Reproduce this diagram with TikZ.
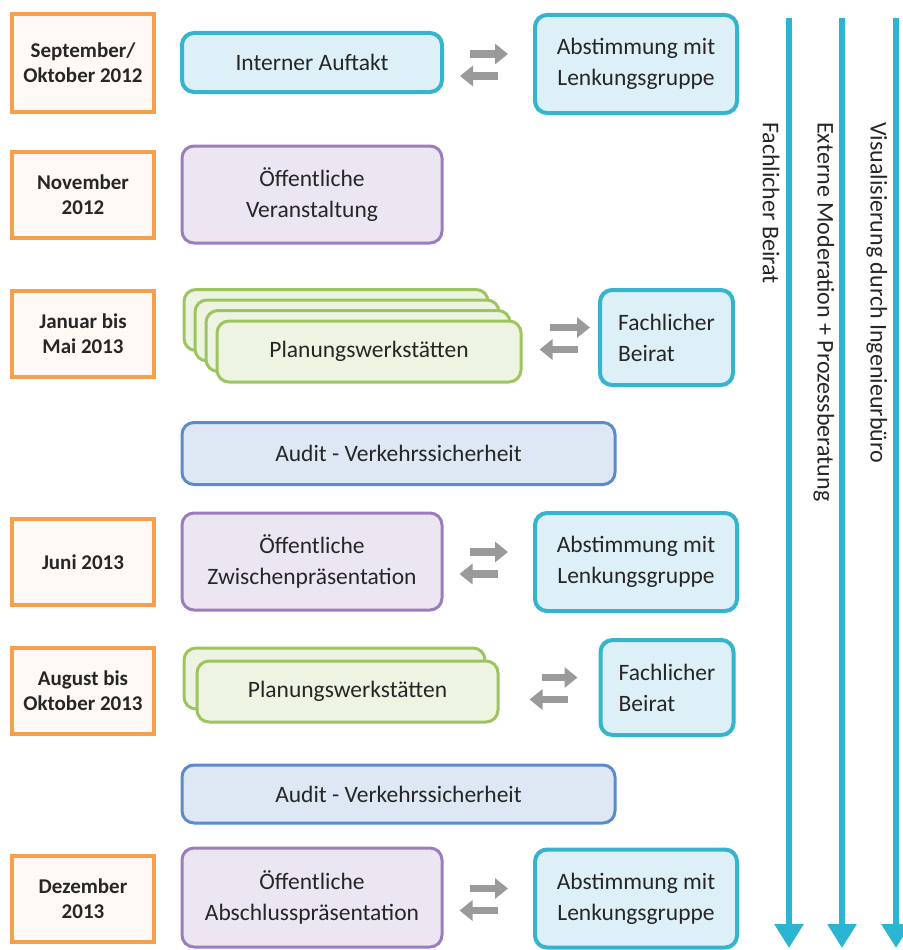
\documentclass[tikz,border=0pt]{standalone}
\usepackage{fontspec}
\setmainfont{Carlito}
\usetikzlibrary{arrows.meta}
\definecolor{txt}{HTML}{262626}
\definecolor{datedr}{HTML}{F6A04D}
\definecolor{datefl}{HTML}{FEF9F4}
\definecolor{cyandr}{HTML}{36B4CD}
\definecolor{cyanfl}{HTML}{DDF0F7}
\definecolor{purpdr}{HTML}{9B7DBF}
\definecolor{purpfl}{HTML}{ECE5F2}
\definecolor{greendr}{HTML}{9DC45F}
\definecolor{greenfl}{HTML}{EEF4E2}
\definecolor{auditdr}{HTML}{5B8BC9}
\definecolor{auditfl}{HTML}{DDE8F4}
\definecolor{timecl}{HTML}{2BB5D3}
\definecolor{arrcl}{HTML}{9A9A9A}
\begin{document}
\begin{tikzpicture}[x=1pt, y=-1pt,
    box/.style={draw, rounded corners=12pt, align=center, inner sep=0pt, text=txt,
        font=\fontsize{23.5}{31}\selectfont},
    datebox/.style={draw=datedr, fill=datefl, line width=3.5pt, align=center, inner sep=0pt,
        minimum width=142pt, minimum height=86pt, text=txt, font=\bfseries\fontsize{21}{25}\selectfont},
    cyanbox/.style={box, draw=cyandr, fill=cyanfl, line width=4pt, minimum width=202pt, minimum height=98pt},
    purplebox/.style={box, draw=purpdr, fill=purpfl, line width=3pt, minimum width=260pt, minimum height=97pt},
    greenbox/.style={box, draw=greendr, fill=greenfl, line width=3pt, minimum height=61pt},
    auditbox/.style={box, draw=auditdr, fill=auditfl, line width=3pt, minimum width=433pt},
    grayarr/.style={draw=arrcl, line width=7.5pt, -{Triangle[length=13pt,width=20pt]}},
    timearr/.style={draw=timecl, line width=6pt, -{Triangle[length=24pt,width=28pt]}},
    vlabel/.style={rotate=-90, anchor=west, inner sep=0pt, text=txt, font=\fontsize{24}{28}\selectfont}]
    \useasboundingbox (0,0) rectangle (902,950);
    % dates
    \node[datebox, minimum height=98pt] (d1) at (83,63) {September/\\Oktober 2012};
    \node[datebox] (d2) at (83,195) {November\\2012};
    \node[datebox] (d3) at (83,334) {Januar bis\\Mai 2013};
    \node[datebox] (d4) at (83,562) {Juni 2013};
    \node[datebox] (d5) at (83,691) {August bis\\Oktober 2013};
    \node[datebox] (d6) at (83,899) {Dezember\\2013};
    % steps
    \node[cyanbox, minimum width=260pt, minimum height=59pt] (ia) at (312,62.5) {Interner Auftakt};
    \node[cyanbox] (ab1) at (636,64) {Abstimmung mit\\Lenkungsgruppe};
    \node[purplebox] (ov) at (312,194.5) {Öffentliche\\Veranstaltung};
    \foreach \k in {3,2,1}
        \node[greenbox, minimum width=304pt] (pwa\k) at ({369-11*\k},{351.5-10.5*\k}) {};
    \node[greenbox, minimum width=304pt] (pwa) at (369,351.5) {Planungswerkstätten};
    \node[cyanbox, minimum width=133pt, minimum height=95pt, align=left] (fb1) at (666.5,337.5) {Fachlicher\\Beirat};
    \node[auditbox, minimum height=62pt] (au1) at (398.5,453.5) {Audit - Verkehrssicherheit};
    \node[purplebox] (oz) at (312,561.5) {Öffentliche\\Zwischenpräsentation};
    \node[cyanbox] (ab2) at (636,562) {Abstimmung mit\\Lenkungsgruppe};
    \node[greenbox, minimum width=301pt] (pwb1) at (334.5,678.5) {};
    \node[greenbox, minimum width=301pt] (pwb) at (347.5,691.5) {Planungswerkstätten};
    \node[cyanbox, minimum width=133pt, minimum height=95pt, align=left] (fb2) at (667,687.5) {Fachlicher\\Beirat};
    \node[auditbox, minimum height=58pt] (au2) at (398.5,794) {Audit - Verkehrssicherheit};
    \node[purplebox, minimum height=99pt] (oa) at (312,897.5) {Öffentliche\\Abschlusspräsentation};
    \node[cyanbox] (ab3) at (636,898.5) {Abstimmung mit\\Lenkungsgruppe};
    % exchange arrows
    \draw[grayarr] ([xshift=26pt,yshift=10pt]ia.east |- ab1.west) -- ([xshift=-25pt,yshift=10pt]ab1.west);
    \draw[grayarr] ([xshift=-35pt,yshift=-12pt]ab1.west) -- ([xshift=16pt,yshift=-12pt]ia.east |- ab1.west);
    \draw[grayarr] ([xshift=27pt,yshift=10pt]pwa.east |- fb1.west) -- ([xshift=-8pt,yshift=10pt]fb1.west);
    \draw[grayarr] ([xshift=-20pt,yshift=-12pt]fb1.west) -- ([xshift=17pt,yshift=-12pt]pwa.east |- fb1.west);
    \draw[grayarr] ([xshift=26pt,yshift=10pt]oz.east |- ab2.west) -- ([xshift=-25pt,yshift=10pt]ab2.west);
    \draw[grayarr] ([xshift=-35pt,yshift=-12pt]ab2.west) -- ([xshift=16pt,yshift=-12pt]oz.east |- ab2.west);
    \draw[grayarr] ([xshift=42pt,yshift=10pt]pwb.east |- fb2.west) -- ([xshift=-21pt,yshift=10pt]fb2.west);
    \draw[grayarr] ([xshift=-31pt,yshift=-12pt]fb2.west) -- ([xshift=30pt,yshift=-12pt]pwb.east |- fb2.west);
    \draw[grayarr] ([xshift=26pt,yshift=10pt]oa.east |- ab3.west) -- ([xshift=-25pt,yshift=10pt]ab3.west);
    \draw[grayarr] ([xshift=-35pt,yshift=-12pt]ab3.west) -- ([xshift=16pt,yshift=-12pt]oa.east |- ab3.west);
    % time lines
    \foreach \x/\n in {789/1,842/2,896/3} {
        \coordinate (t\n) at (\x,18);
        \coordinate (b\n) at (\x,948);
        \draw[timearr] (t\n) -- (b\n);
    }
    \node[vlabel] (fbl) at (771,122) {Fachlicher Beirat};
    \node[vlabel] (eml) at (824,122) {Externe Moderation + Prozessberatung};
    \node[vlabel] (vil) at (877,122) {Visualisierung durch Ingenieurbüro};
\end{tikzpicture}
\end{document}
